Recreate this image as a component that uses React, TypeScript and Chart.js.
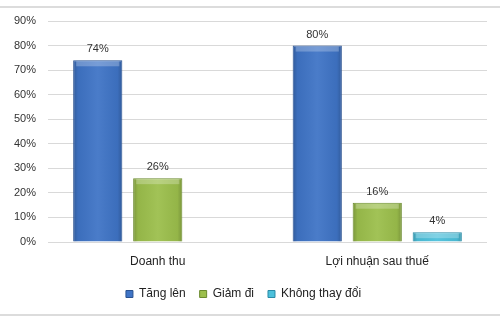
import React, { useEffect, useRef } from "react";
import { Chart, registerables } from "chart.js";

Chart.register(...registerables);

const categories = ["Doanh thu", "Lợi nhuận sau thuế"];
const seriesNames = ["Tăng lên", "Giảm đi", "Không thay đổi"];
const tangLen = [74, 80];
const giamDi = [26, 16];
const khongThayDoi = [null, 4];
const yTicks = [0, 10, 20, 30, 40, 50, 60, 70, 80, 90];

const fills = ["#3F74C6", "#9CBF4C", "#4CC0DB"];
const borders = ["#2A5290", "#6A8A2E", "#2A8AA6"];
const FONT = "'Liberation Sans', Arial, sans-serif";

const frameLines = {
  id: "frameLines",
  beforeDraw(chart: any) {
    const ctx = chart.ctx;
    ctx.save();
    ctx.strokeStyle = "#DCDCDC";
    ctx.lineWidth = 2;
    ctx.beginPath();
    ctx.moveTo(0, 7);
    ctx.lineTo(chart.width, 7);
    ctx.moveTo(0, 315);
    ctx.lineTo(chart.width, 315);
    ctx.stroke();
    ctx.restore();
  },
};

const bevel = {
  id: "bevel",
  afterDatasetsDraw(chart: any) {
    const ctx = chart.ctx;
    ctx.save();
    chart.data.datasets.forEach((ds: any, i: number) => {
      const meta = chart.getDatasetMeta(i);
      meta.data.forEach((bar: any, j: number) => {
        const v = ds.data[j];
        if (v === null || v === undefined) return;
        const left = bar.x - bar.width / 2;
        const right = bar.x + bar.width / 2;
        const top = bar.y;
        const bottom = bar.base;
        const g = ctx.createLinearGradient(left, 0, right, 0);
        g.addColorStop(0, "rgba(0,0,0,0.22)");
        g.addColorStop(0.1, "rgba(0,0,0,0.05)");
        g.addColorStop(0.5, "rgba(255,255,255,0.06)");
        g.addColorStop(0.9, "rgba(0,0,0,0.05)");
        g.addColorStop(1, "rgba(0,0,0,0.22)");
        ctx.fillStyle = g;
        ctx.fillRect(left + 1, top + 1, right - left - 2, bottom - top - 1);
        const h = Math.min(5, bottom - top - 2);
        ctx.fillStyle = "rgba(255,255,255,0.25)";
        ctx.fillRect(left + 3, top + 1, right - left - 6, h);
      });
    });
    ctx.restore();
  },
};

const valueLabels = {
  id: "valueLabels",
  afterDatasetsDraw(chart: any) {
    const ctx = chart.ctx;
    ctx.save();
    ctx.font = `11px ${FONT}`;
    ctx.fillStyle = "#333333";
    ctx.textAlign = "center";
    ctx.textBaseline = "alphabetic";
    chart.data.datasets.forEach((ds: any, i: number) => {
      const meta = chart.getDatasetMeta(i);
      meta.data.forEach((bar: any, j: number) => {
        const v = ds.data[j];
        if (v === null || v === undefined) return;
        ctx.fillText(`${v}%`, bar.x, bar.y - 8);
      });
    });
    ctx.restore();
  },
};

export default function App() {
  const ref = useRef<HTMLCanvasElement>(null);
  useEffect(() => {
    document.body.style.margin = "0";
    const series = [tangLen, giamDi, khongThayDoi];
    const chart = new Chart(ref.current!, {
      type: "bar",
      data: {
        labels: categories,
        datasets: series.map((d, i) => ({
          label: seriesNames[i],
          data: d as any,
          backgroundColor: fills[i],
          borderColor: borders[i],
          borderWidth: 1,
          borderSkipped: "bottom",
          categoryPercentage: 0.82,
          barPercentage: 0.82,
        })),
      },
      options: {
        responsive: false,
        animation: false,
        layout: { padding: { top: 21, right: 13, left: 0, bottom: 13 } },
        plugins: {
          legend: {
            position: "bottom",
            labels: {
              font: { family: FONT, size: 12 },
              color: "#222222",
              boxWidth: 7,
              boxHeight: 7,
              padding: 14,
            },
          },
          tooltip: { enabled: false },
        },
        scales: {
          x: {
            grid: { display: false },
            border: { display: false },
            ticks: { font: { family: FONT, size: 12 }, color: "#222222", padding: 4 },
            afterFit(scale: any) {
              scale.height = 32;
            },
          },
          y: {
            min: 0,
            max: 90,
            afterBuildTicks(scale: any) {
              scale.ticks = yTicks.map((v) => ({ value: v }));
            },
            ticks: {
              font: { family: FONT, size: 11 },
              color: "#333333",
              padding: 12,
              callback: (v: any) => `${v}%`,
            },
            grid: { color: "#D9D9D9", lineWidth: 1, drawTicks: false },
            border: { display: false },
            afterFit(scale: any) {
              scale.width = 48;
            },
          },
        },
      },
      plugins: [frameLines, bevel, valueLabels],
    });
    return () => chart.destroy();
  }, []);
  return <canvas ref={ref} width={500} height={323} style={{ display: "block" }} />;
}
